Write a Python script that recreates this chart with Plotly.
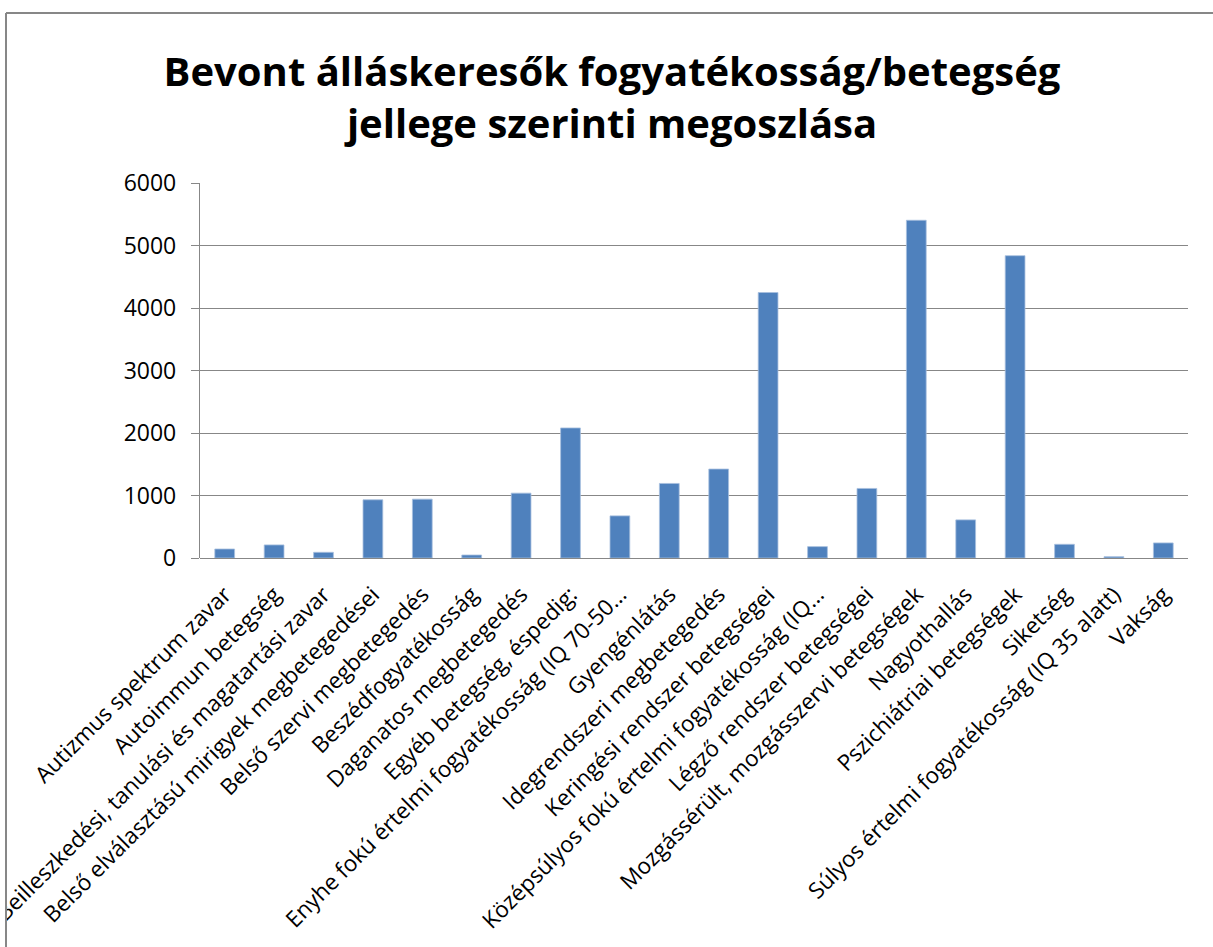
import plotly.graph_objects as go

categories = [
    "Autizmus spektrum zavar",
    "Autoimmun betegség",
    "Beilleszkedési, tanulási és magatartási zavar",
    "Belső elválasztású mirigyek megbetegedései",
    "Belső szervi megbetegedés",
    "Beszédfogyatékosság",
    "Daganatos megbetegedés",
    "Egyéb betegség, éspedig:",
    "Enyhe fokú értelmi fogyatékosság (IQ 70-50…",
    "Gyengénlátás",
    "Idegrendszeri megbetegedés",
    "Keringési rendszer betegségei",
    "Középsúlyos fokú értelmi fogyatékosság (IQ…",
    "Légző rendszer betegségei",
    "Mozgássérült, mozgásszervi betegségek",
    "Nagyothallás",
    "Pszichiátriai betegségek",
    "Siketség",
    "Súlyos értelmi fogyatékosság (IQ 35 alatt)",
    "Vakság",
]
values = [144, 209, 91, 931, 942, 48, 1038, 2081, 674, 1193,
          1423, 4248, 182, 1113, 5404, 610, 4837, 219, 21, 241]
y_ticks = [0, 1000, 2000, 3000, 4000, 5000, 6000]

title_text = "Bevont álláskeresők fogyatékosság/betegség<br>jellege szerinti megoszlása"

FONT = "Open Sans"
W, H = 1213, 947
ML, MR, MT, MB = 200, 25, 183, 389
pw = W - ML - MR
ph = H - MT - MB

def px_x(p):
    return (p - ML) / pw

def px_y(p):
    return (H - MB - p) / ph

fig = go.Figure(go.Bar(
    x=categories, y=values, width=0.4,
    marker=dict(color="#4F81BD", line=dict(color="#A7BFDE", width=0.8)),
))

fig.update_layout(
    width=W, height=H,
    margin=dict(l=ML, r=MR, t=MT, b=MB, autoexpand=False),
    paper_bgcolor="white", plot_bgcolor="white",
    showlegend=False,
    title=dict(text=title_text, x=612 / W, xanchor="center", xref="container",
               y=1 - 86 / H, yanchor="top", yref="container",
               font=dict(family=FONT, size=40, color="black", weight="bold")),
    font=dict(family=FONT, color="black"),
    xaxis=dict(type="category", tickangle=-45, automargin=False,
               tickfont=dict(family=FONT, size=22.5, color="black"),
               ticklabelstandoff=18,
               showgrid=False, showline=False, ticks=""),
    yaxis=dict(range=[0, 6000], tickvals=y_ticks, automargin=False,
               tickfont=dict(family=FONT, size=23, color="black"),
               ticklabelstandoff=10,
               showgrid=True, gridcolor="#878787", gridwidth=1.3,
               showline=True, linecolor="#878787", linewidth=1.3,
               ticks="outside", ticklen=8, tickcolor="#878787", tickwidth=1.3,
               zeroline=True, zerolinecolor="#878787", zerolinewidth=1.3),
    shapes=[
        dict(type="rect", xref="paper", yref="paper", x0=px_x(-5), x1=px_x(6),
             y0=px_y(H + 5), y1=px_y(-5), fillcolor="white", line=dict(width=0),
             layer="above"),
        dict(type="line", xref="paper", yref="paper", x0=px_x(6), x1=px_x(6),
             y0=px_y(13), y1=px_y(H + 5), line=dict(color="#878787", width=2),
             layer="above"),
        dict(type="line", xref="paper", yref="paper", x0=px_x(6), x1=px_x(W + 5),
             y0=px_y(13), y1=px_y(13), line=dict(color="#878787", width=2),
             layer="above"),
    ],
)

fig.write_html("out.html", config={"displayModeBar": False},
               post_script="document.body.style.margin='0';")
